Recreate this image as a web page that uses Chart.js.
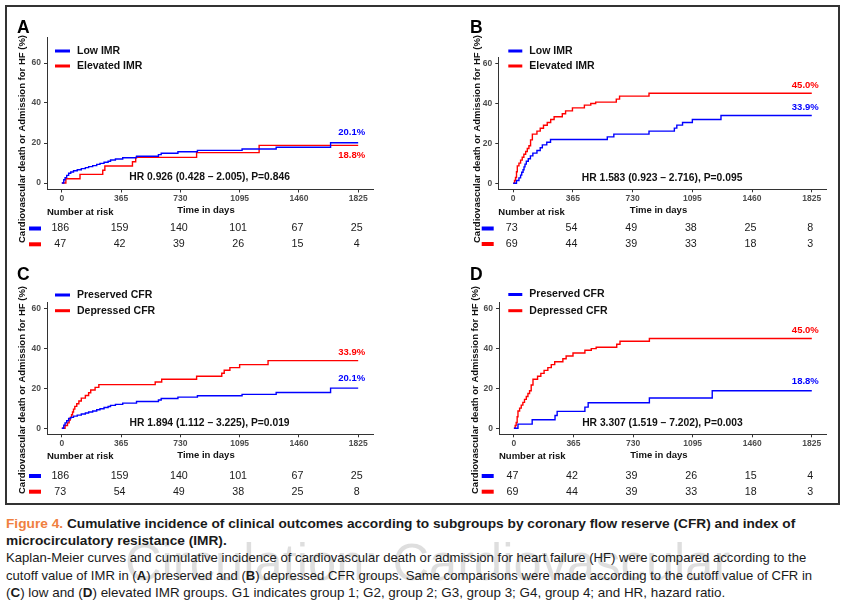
<!DOCTYPE html>
<html><head><meta charset="utf-8">
<script src="https://cdn.jsdelivr.net/npm/chart.js@4.4.1/dist/chart.umd.min.js"></script>
<style>
html,body{margin:0;padding:0;background:#fff;}
body{width:850px;height:605px;position:relative;overflow:hidden;font-family:"Liberation Sans",Arial,sans-serif;}
#frame{position:absolute;left:5px;top:5px;width:831px;height:496px;border:2px solid #333;}
canvas.p{position:absolute;}
.cap{position:absolute;left:6px;white-space:nowrap;transform-origin:0 50%;font-size:13.3px;line-height:17px;height:17px;color:#1a1a1a;}
.b{font-weight:bold;}
#wm{position:absolute;left:125px;top:536px;font-size:52px;line-height:52px;color:rgba(0,0,0,0.13);white-space:nowrap;transform-origin:0 0;}
</style></head><body>
<div id="frame"></div>
<canvas id="cA" class="p" width="425" height="260" style="left:0;top:0;width:425px;height:260px"></canvas>
<canvas id="cB" class="p" width="425" height="260" style="left:425px;top:0;width:425px;height:260px"></canvas>
<canvas id="cC" class="p" width="425" height="245" style="left:0;top:260px;width:425px;height:245px"></canvas>
<canvas id="cD" class="p" width="425" height="245" style="left:425px;top:260px;width:425px;height:245px"></canvas>
<div id="wm">Circulation: Cardiovascular</div>
<div class="cap b" id="l1" style="top:514.5px"><span style="color:#F08040">Figure 4.</span> Cumulative incidence of clinical outcomes according to subgroups by coronary flow reserve (CFR) and index of</div>
<div class="cap b" id="l2" style="top:531.5px">microcirculatory resistance (IMR).</div>
<div class="cap" id="l3" style="top:549px">Kaplan-Meier curves and cumulative incidence of cardiovascular death or admission for heart failure (HF) were compared according to the</div>
<div class="cap" id="l4" style="top:566.5px">cutoff value of IMR in (<b>A</b>) preserved and (<b>B</b>) depressed CFR groups. Same comparisons were made according to the cutoff value of CFR in</div>
<div class="cap" id="l5" style="top:583.5px">(<b>C</b>) low and (<b>D</b>) elevated IMR groups. G1 indicates group 1; G2, group 2; G3, group 3; G4, group 4; and HR, hazard ratio.</div>
<script>
// ---------- data ----------
const xTickDays = [0, 365, 730, 1095, 1460, 1825];
const yTickPct = [0, 20, 40, 60];

// Preserved CFR + low IMR (n=186)
const presLowDays = [0,12,20,30,42,55,72,95,120,145,165,190,215,235,260,285,300,330,375,460,595,612,715,835,1110,1320,1655,1825];
const presLowPct  = [0,1.6,2.7,3.8,4.9,5.5,6.1,6.6,7.2,7.7,8.2,8.7,9.3,9.8,10.4,10.9,11.5,12.0,12.6,13.4,14.2,14.9,15.6,16.3,17.0,17.9,20.1,20.1];
const presLowRisk = [186,159,140,101,67,25];

// Preserved CFR + elevated IMR (n=47)
const presElevDays = [0,25,112,252,265,435,455,830,1215,1825];
const presElevPct  = [0,2.1,4.3,6.4,8.5,10.6,12.8,15.2,18.8,18.8];
const presElevRisk = [47,42,39,26,15,4];

// Depressed CFR + low IMR (n=73)
const depLowDays = [0,20,35,45,52,60,66,72,80,92,105,120,145,165,178,205,228,575,615,830,985,1000,1035,1095,1270,1825];
const depLowPct  = [0,1.4,2.7,4.1,5.5,6.8,8.2,9.6,11.0,12.3,13.7,15.1,16.4,17.8,19.2,20.5,21.9,23.2,24.6,26.1,27.6,29.1,30.4,31.9,33.9,33.9];
const depLowRisk = [73,54,49,38,25,8];

// Depressed CFR + elevated IMR (n=69)
const depElevDays = [0,8,14,20,25,35,45,55,65,76,86,96,106,117,145,165,185,208,229,250,300,320,362,435,474,504,630,650,830,1825];
const depElevPct  = [0,1.4,2.9,5.8,8.7,10.1,11.6,13.0,14.5,15.9,17.4,18.8,21.7,24.6,26.1,27.5,29.0,30.4,31.9,33.3,34.8,36.2,37.7,39.1,39.9,40.6,42.1,43.6,45.0,45.0];
const depElevRisk = [69,44,39,33,18,3];

const hrTexts = ['HR 0.926 (0.428 \u2013 2.005), P=0.846','HR 1.583 (0.923 \u2013 2.716), P=0.095','HR 1.894 (1.112 \u2013 3.225), P=0.019','HR 3.307 (1.519 \u2013 7.202), P=0.003'];
const yTitle = 'Cardiovascular death or Admission for HF (%)';
const BLUE = '#0000FF', RED = '#FF0000';
const FONT = '"Liberation Sans", Arial, sans-serif';

// ---------- panel layout ----------
const panels = [
  {id:'cA', letter:'A', hr:hrTexts[0], ymin:-3.25, ymax:73, padTop:37, padRight:52, yW:47, xH:70.5,
   letterX:17, letterY:33, legX0:55, legX1:70, legTX:77, legY:[51,66], titleX:22, titleY:139,
   nrY:212.5, rowY:[228.5,244.3], dashX:29,
   series:[{name:'Low IMR', days:presLowDays, pct:presLowPct, risk:presLowRisk, color:BLUE, off:-10},
           {name:'Elevated IMR', days:presElevDays, pct:presElevPct, risk:presElevRisk, color:RED, off:10}]},
  {id:'cB', letter:'B', hr:hrTexts[1], ymin:-3, ymax:63, padTop:57.3, padRight:23.3, yW:73.3, xH:70.7,
   letterX:45, letterY:33, legX0:83.3, legX1:97.3, legTX:104.3, legY:[51,66], titleX:52, titleY:139,
   nrY:212.5, rowY:[228.5,244], dashX:56.7,
   series:[{name:'Low IMR', days:depLowDays, pct:depLowPct, risk:depLowRisk, color:BLUE, off:-8.5},
           {name:'Elevated IMR', days:depElevDays, pct:depElevPct, risk:depElevRisk, color:RED, off:-8}]},
  {id:'cC', letter:'C', hr:hrTexts[2], ymin:-3, ymax:63, padTop:42.5, padRight:52, yW:47, xH:70.7,
   letterX:17, letterY:20, legX0:55, legX1:70, legTX:77, legY:[35,50.7], titleX:22, titleY:130,
   nrY:196.7, rowY:[216,231.7], dashX:29,
   series:[{name:'Preserved CFR', days:presLowDays, pct:presLowPct, risk:presLowRisk, color:BLUE, off:-10},
           {name:'Depressed CFR', days:depLowDays, pct:depLowPct, risk:depLowRisk, color:RED, off:-8}]},
  {id:'cD', letter:'D', hr:hrTexts[3], ymin:-3, ymax:63, padTop:42.5, padRight:23.3, yW:74, xH:70.7,
   letterX:45, letterY:20, legX0:83.3, legX1:97.3, legTX:104.3, legY:[34.5,50.7], titleX:50, titleY:130,
   nrY:196.7, rowY:[216,231.7], dashX:56.7,
   series:[{name:'Preserved CFR', days:presElevDays, pct:presElevPct, risk:presElevRisk, color:BLUE, off:-9},
           {name:'Depressed CFR', days:depElevDays, pct:depElevPct, risk:depElevRisk, color:RED, off:-7.6}]}
];

function pts(days, pct){ return days.map((d,i)=>({x:d, y:pct[i]})); }

function makePanel(cfg){
  const textPlugin = {
    id:'kmText',
    afterDraw(chart){
      const c = chart.ctx, xs = chart.scales.x, ys = chart.scales.y, a = chart.chartArea;
      c.save();
      c.fillStyle = '#000'; c.textAlign = 'left'; c.textBaseline = 'alphabetic';
      c.font = 'bold 17.5px ' + FONT;
      c.fillText(cfg.letter, cfg.letterX, cfg.letterY);
      c.textBaseline = 'middle'; c.font = 'bold 10.5px ' + FONT;
      cfg.series.forEach((s,i)=>{
        c.strokeStyle = s.color; c.lineWidth = 3;
        c.beginPath(); c.moveTo(cfg.legX0, cfg.legY[i]); c.lineTo(cfg.legX1, cfg.legY[i]); c.stroke();
        c.fillStyle = '#111'; c.fillText(s.name, cfg.legTX, cfg.legY[i]);
      });
      c.save();
      c.translate(cfg.titleX, cfg.titleY); c.rotate(-Math.PI/2);
      c.textAlign = 'center'; c.textBaseline = 'middle'; c.font = 'bold 9.5px ' + FONT; c.fillStyle = '#111';
      c.fillText(yTitle, 0, 0);
      c.restore();
      c.font = 'bold 9.5px ' + FONT; c.textAlign = 'right'; c.textBaseline = 'middle';
      const xEnd = xs.getPixelForValue(xTickDays[xTickDays.length-1]) + 7;
      cfg.series.forEach(s=>{
        const v = s.pct[s.pct.length-1];
        c.fillStyle = s.color;
        c.fillText(v.toFixed(1) + '%', xEnd, ys.getPixelForValue(v) + s.off);
      });
      c.fillStyle = '#111'; c.textAlign = 'center'; c.font = 'bold 10.3px ' + FONT;
      c.fillText(cfg.hr, xs.getPixelForValue(910), ys.getPixelForValue(0) - 5.5);
      c.font = 'bold 9.5px ' + FONT;
      c.fillText('Time in days', (a.left + a.right)/2 - 4, a.bottom + 21);
      c.textAlign = 'left';
      c.fillText('Number at risk', a.left, cfg.nrY);
      c.font = '10.7px ' + FONT; c.textAlign = 'center';
      cfg.series.forEach((s,i)=>{
        c.fillStyle = s.color;
        c.fillRect(cfg.dashX, cfg.rowY[i] - 2, 12, 4);
        c.fillStyle = '#1a1a1a';
        s.risk.forEach((n,j)=>{ c.fillText(String(n), xs.getPixelForValue(xTickDays[j]) - 1.5, cfg.rowY[i]); });
      });
      c.restore();
    }
  };
  new Chart(document.getElementById(cfg.id), {
    type:'line',
    data:{datasets: cfg.series.map(s=>({
      label:s.name, data:pts(s.days, s.pct), borderColor:s.color, backgroundColor:s.color,
      borderWidth:1.4, stepped:'before', pointRadius:0, fill:false, tension:0
    }))},
    options:{
      responsive:false, maintainAspectRatio:false, animation:false,
      layout:{padding:{left:0, right:cfg.padRight, top:cfg.padTop, bottom:0}},
      plugins:{legend:{display:false}, tooltip:{enabled:false}, title:{display:false}},
      scales:{
        x:{type:'linear', min:-91.25, max:1916.25,
           afterBuildTicks:s=>{ s.ticks = xTickDays.map(v=>({value:v})); },
           afterFit:s=>{ s.height = cfg.xH; },
           ticks:{callback:v=>String(v), color:'#4d4d4d', font:{family:FONT, size:8.5, weight:'bold'}, padding:1.5, maxRotation:0, autoSkip:false},
           grid:{drawOnChartArea:false, drawTicks:true, tickLength:3, color:'#333'},
           border:{display:true, color:'#333', width:1}},
        y:{type:'linear', min:cfg.ymin, max:cfg.ymax,
           afterBuildTicks:s=>{ s.ticks = yTickPct.map(v=>({value:v})); },
           afterFit:s=>{ s.width = cfg.yW; },
           ticks:{callback:v=>String(v), color:'#4d4d4d', font:{family:FONT, size:8.5, weight:'bold'}, padding:3},
           grid:{drawOnChartArea:false, drawTicks:true, tickLength:3, color:'#333'},
           border:{display:true, color:'#333', width:1}}
      }
    },
    plugins:[textPlugin]
  });
}
panels.forEach(makePanel);

// ---------- caption fitting ----------
function fit(id, target){
  const el = document.getElementById(id);
  const w = el.scrollWidth;
  const k = target / w;
  el.style.transform = 'scaleX(' + k + ')';
  return k;
}
const k1 = fit('l1', 789);
document.getElementById('l2').style.transform = 'scaleX(' + k1 + ')';
fit('l3', 800);
fit('l4', 806);
fit('l5', 719);
fit('wm', 605);
</script>
</body></html>
